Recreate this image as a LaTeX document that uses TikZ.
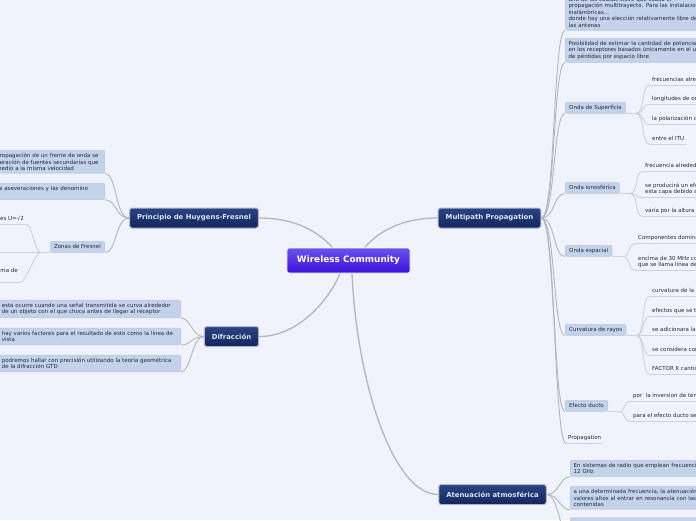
\documentclass[tikz,border=0pt]{standalone}
\usepackage{fontspec}
\newfontfamily\dv{DejaVu Sans}
\usetikzlibrary{calc}
\newcommand\mfs{\dv\fontsize{5.5}{6.6}\selectfont}
\newcommand\mfb{\dv\bfseries\fontsize{6.9}{8}\selectfont}
\newcommand\mfc{\dv\bfseries\fontsize{8.9}{10}\selectfont}
\definecolor{bgc}{HTML}{F0F3FC}
\definecolor{lbox}{HTML}{C3D3EA}
\definecolor{lboxd}{HTML}{B6C7E0}
\definecolor{navyt}{HTML}{2B4384}
\definecolor{navyb}{HTML}{13255C}
\definecolor{navyd}{HTML}{A9BACB}
\definecolor{navytx}{HTML}{DCE4EF}
\definecolor{cent}{HTML}{6A52EE}
\definecolor{cenb}{HTML}{3A0FD8}
\definecolor{conn}{HTML}{B4B5BE}
\definecolor{ulc}{HTML}{CDD1DB}
\definecolor{txt}{HTML}{25283A}
\pgfdeclarelayer{bgl}
\pgfdeclarelayer{edges}
\pgfsetlayers{bgl,edges,main}
\tikzset{
  central/.style={rounded corners=2pt, draw=white, line width=0.8pt, top color=cent, bottom color=cenb, text=white, font=\mfc, inner xsep=10pt, minimum height=25pt},
  branch/.style={rounded corners=2.5pt, draw=navyd, line width=1pt, top color=navyt, bottom color=navyb, text=navytx, font=\mfb, inner xsep=7.5pt, minimum height=20pt},
  subbox/.style={rounded corners=2pt, fill=lbox, draw=lboxd, line width=0.4pt, text=txt, font=\mfs, inner xsep=4pt, inner ysep=0pt, minimum height=11pt},
  tbox/.style={rounded corners=2pt, fill=lbox, draw=lboxd, line width=0.4pt, text=txt, font=\mfs, align=left, inner xsep=3.5pt, inner ysep=2.8pt, anchor=north west},
  leaf/.style={text=txt, font=\mfs, inner xsep=2pt, inner ysep=2.5pt, anchor=south west, text height=4pt, text depth=1.3pt},
  leaftwo/.style={text=txt, font=\mfs, inner xsep=2pt, inner ysep=2.5pt, anchor=south west, align=left},
  link/.style={draw=conn, line width=0.9pt},
  clink/.style={draw=conn, line width=1.3pt},
  uline/.style={draw=ulc, line width=0.9pt}
}
\begin{document}
\begin{tikzpicture}[x=1pt,y=-1pt]
\useasboundingbox (0,0) rectangle (696,520);
\begin{pgfonlayer}{bgl}
\fill[bgc] (0,0) rectangle (696,520);
\end{pgfonlayer}

% central and branches
\node[central] (wc) at (348.5,260.5) {Wireless Community};
\node[branch] (huy) at (194,218) {Principio de Huygens-Fresnel};
\node[branch] (mp) at (489.5,218) {Multipath Propagation};
\node[branch] (dif) at (231.5,336.5) {Difracción};
\node[branch] (atm) at (492.5,494.5) {Atenuación atmosférica};

% Multipath children
\node[tbox, anchor=south west, text width=200pt] (m1) at (565,30.5) {una de las causas clave que causa el\\propagación multitrayecto. Para las instalaciones\\inalámbricas...\\donde hay una elección relativamente libre de\\las antenas};
\node[tbox, text width=200pt] (m2) at (565,38) {Posibilidad de estimar la cantidad de potencia\\en los receptores basados únicamente en el uso\\de pérdidas por espacio libre};
\node[subbox, anchor=south west] (ods) at (565,113.5) {Onda de Superficie};
\node[subbox, anchor=south west] (oi) at (565,193.5) {Onda ionosférica};
\node[subbox, anchor=south west] (oe) at (565,256.5) {Onda espacial};
\node[subbox, anchor=south west] (cr) at (565,335.5) {Curvatura de rayos};
\node[subbox, anchor=south west] (ed) at (565,411.5) {Efecto ducto};
\node[leaf] (prop) at (566,443.5) {Propagation};

% leaves
\node[leaf] (s1) at (650,85) {frecuencias alrededor};
\node[leaf] (s2) at (650,104.5) {longitudes de onda};
\node[leaf] (s3) at (650,124.5) {la polarización de};
\node[leaf] (s4) at (650,144.5) {entre el ITU};
\node[leaf] (i1) at (643,171.5) {frecuencia alrededor};
\node[leaftwo] (i2) at (643,197.5) {se producirá un efecto\\esta capa debido a};
\node[leaf] (i3) at (643,216.5) {varía por la altura};
\node[leaf] (e1) at (636,243.5) {Componentes dominantes};
\node[leaftwo] (e2) at (636,270.5) {encima de 30 MHz con\\que se llama línea de};
\node[leaf] (c1) at (650,296.5) {curvatura de la tierra};
\node[leaf] (c2) at (650,316.5) {efectos que se tienen};
\node[leaf] (c3) at (650,335.5) {se adicionara la};
\node[leaf] (c4) at (650,355.5) {se considera como};
\node[leaf] (c5) at (650,374.5) {FACTOR K cantidad};
\node[leaf] (d1) at (631,401.5) {por\ \ la inversion de temperatura};
\node[leaf] (d2) at (631,421.5) {para el efecto ducto se};

% Atenuacion children
\node[tbox, text width=200pt] (a1) at (570,460) {En sistemas de radio que emplean frecuencias\\12 GHz};
\node[tbox, text width=200pt] (a2) at (570,486) {a una determinada frecuencia, la atenuación\\valores altos al entrar en resonancia con las\\contenidas};
\node[tbox, text width=200pt, minimum height=20pt] (a3) at (570,517.5) {};

% Huygens children
\node[tbox, anchor=north east, text width=105pt] (h1) at (105,150) {propagación de un frente de onda se\\neración de fuentes secundarias que\\medio a la misma velocidad};
\node[tbox, anchor=north east, text width=105pt] (h2) at (105,183) {as aseveraciones y las denomino\\\mbox{}};
\node[subbox, anchor=south east] (zf) at (105,252.5) {Zonas de Fresnel};
\node[leaf, anchor=south east] (z1) at (26,224) {es U=√2};
\coordinate (z2) at (-1,252.5);
\node[leaf, anchor=south east, text depth=7pt] (z3) at (20,282.5) {ma de};

% Difraccion children
\node[tbox, anchor=south east, text width=175.5pt] (f1) at (181,318) {esta ocurre cuando una señal transmitida se curva alrededor\\de un objeto con el que choca antes de llegar al receptor};
\node[tbox, anchor=south east, text width=175.5pt] (f2) at (181,345) {hay varios factores para el resultado de esto como la línea de\\vista};
\node[tbox, anchor=south east, text width=175.5pt] (f3) at (181,372) {podremos hallar con precisión utilizando la teoría geométrica\\de la difracción GTD};

\begin{pgfonlayer}{edges}
% central links
\draw[clink] ($(wc.north)+(-16,0)$) .. controls +(-15,-17) and +(35,0) .. (huy.east);
\draw[clink] ($(wc.north)+(16,0)$) .. controls +(15,-17) and +(-35,0) .. (mp.west);
\draw[clink] ($(wc.south)+(-8.5,0)$) .. controls +(-10,25) and +(40,0) .. (dif.east);
\draw[clink] ($(wc.south)+(3.5,0)$) .. controls +(5,110) and +(-45,0) .. (atm.west);
% multipath
\foreach \c in {m1,m2,ods,oi,oe,cr,ed,prop}
  \draw[link] (mp.east) .. controls +(14,0) and +(-12,0) .. (\c.south west);
% leaf underlines
\foreach \l in {prop,s1,s2,s3,s4,i1,i2,i3,e1,e2,c1,c2,c3,c4,c5,d1,d2,z1,z3}
  \draw[uline] (\l.south west) -- (\l.south east);
\foreach \p/\l in {ods/s1,ods/s2,ods/s3,ods/s4,oi/i1,oi/i2,oi/i3,oe/e1,oe/e2,cr/c1,cr/c2,cr/c3,cr/c4,cr/c5,ed/d1,ed/d2}
  \draw[uline] (\p.south east) -- ++(10,0) .. controls +(9,0) and +(-9,0) .. (\l.south west);
% atenuacion
\foreach \c in {a1,a2,a3}
  \draw[link] (atm.east) .. controls +(12,0) and +(-10,0) .. (\c.south west);
% huygens
\foreach \c in {h1,h2,zf}
  \draw[link] (huy.west) .. controls +(-14,0) and +(12,0) .. (\c.south east);
\draw[uline] (zf.south west) -- ++(-9,0) .. controls +(-6,0) and +(6,0) .. (z1.south east);
\draw[uline] (zf.south west) -- (z2);
\draw[uline] (zf.south west) -- ++(-9,0) .. controls +(-6,0) and +(6,0) .. (z3.south east);
% difraccion
\foreach \c in {f1,f2,f3}
  \draw[link] (dif.west) .. controls +(-12,0) and +(10,0) .. (\c.south east);
\end{pgfonlayer}
\end{tikzpicture}
\end{document}
